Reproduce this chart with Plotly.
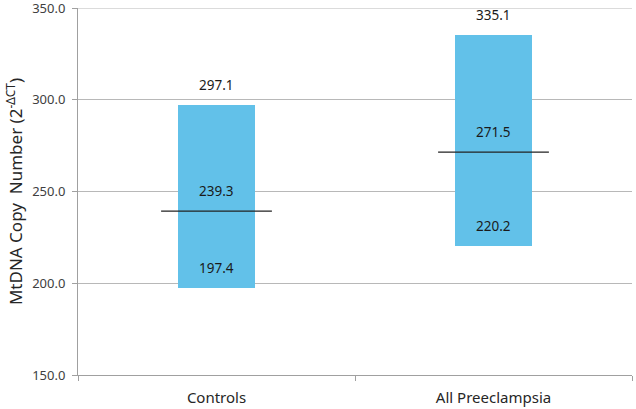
import plotly.graph_objects as go

categories = ["Controls", "All Preeclampsia"]
low_values = [197.4, 220.2]
median_values = [239.3, 271.5]
high_values = [297.1, 335.1]

bar_color = "#62C1E9"
font_family = "Noto Sans, Open Sans, sans-serif"

fig = go.Figure()
fig.add_trace(go.Bar(
    x=categories,
    y=[h - l for h, l in zip(high_values, low_values)],
    base=low_values,
    width=0.275,
    marker=dict(color=bar_color, line=dict(width=0)),
    hoverinfo="skip",
    showlegend=False,
))

shapes = [
    # top gridline (plotly omits the gridline at the range edge)
    dict(type="line", xref="paper", yref="y", x0=0, x1=1, y0=350, y1=350,
         line=dict(color="#b8b8b8", width=1), layer="below"),
]
annotations = []
for i, cat in enumerate(categories):
    shapes.append(dict(type="line", xref="x", yref="y",
                       x0=i - 0.2, x1=i + 0.2,
                       y0=median_values[i], y1=median_values[i],
                       line=dict(color="#222222", width=1.3)))
    for v in (low_values[i], median_values[i], high_values[i]):
        annotations.append(dict(x=cat, y=v, xref="x", yref="y",
                                text=f"{v:.1f}", showarrow=False,
                                yshift=20,
                                font=dict(size=13.5, color="#1a1a1a", family=font_family)))

fig.update_layout(
    width=636, height=409,
    margin=dict(l=78, r=4, t=8, b=34),
    paper_bgcolor="white", plot_bgcolor="white",
    shapes=shapes, annotations=annotations,
    font=dict(family=font_family),
    bargap=0,
)
fig.update_xaxes(
    type="category",
    range=[-0.5, 1.5],
    tickson="boundaries",
    ticks="outside", ticklen=5, tickcolor="#a0a0a0",
    showline=True, linecolor="#a0a0a0", linewidth=1,
    showgrid=False,
    automargin=False,
    ticklabelstandoff=9,
    tickfont=dict(size=15, color="#262626"),
)
fig.update_yaxes(
    range=[150, 350], dtick=50, tick0=150,
    tickformat=".1f",
    ticks="outside", ticklen=5, tickcolor="#a0a0a0",
    showline=True, linecolor="#a0a0a0", linewidth=1,
    showgrid=True, gridcolor="#b8b8b8", gridwidth=1,
    zeroline=False,
    automargin=False,
    ticklabeloverflow="allow",
    ticklabelstandoff=4,
    tickfont=dict(size=13, color="#404040"),
    title=dict(text="MtDNA Copy  Number (2<sup>-ΔCT</sup>)",
               font=dict(size=17, color="#262626"), standoff=5),
)

fig.write_html("out.html", config={"displayModeBar": False},
               post_script="document.body.style.margin='0';")
